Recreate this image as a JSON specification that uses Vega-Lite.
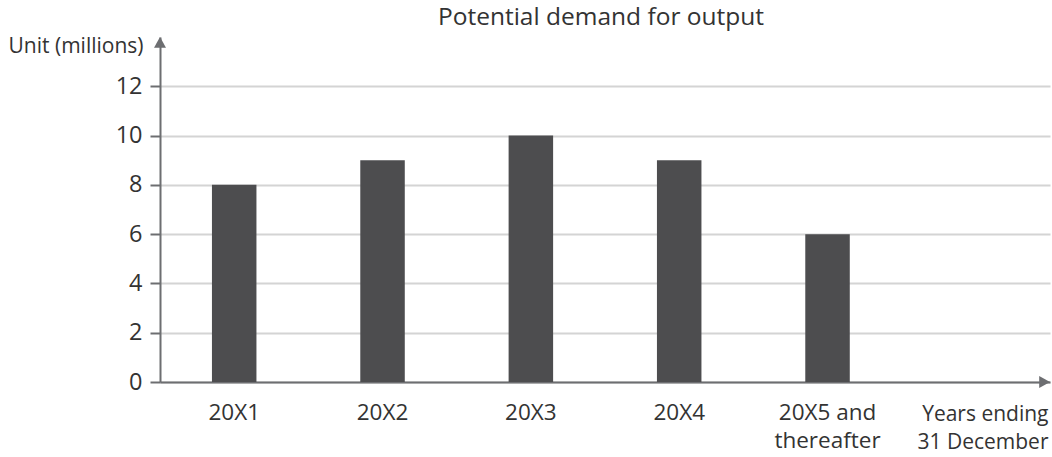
{
  "$schema": "https://vega.github.io/schema/vega-lite/v6.json",
  "width": 890,
  "height": 345,
  "autosize": {"type": "none"},
  "padding": {"left": 160, "top": 37, "right": 2, "bottom": 75},
  "background": "white",
  "config": {
    "view": {"stroke": null},
    "font": "Open Sans"
  },
  "title": {
    "text": "Potential demand for output",
    "fontSize": 24.5,
    "fontWeight": "normal",
    "color": "#333333",
    "anchor": "middle",
    "baseline": "alphabetic",
    "offset": -14,
    "dx": -4
  },
  "layer": [
    {
      "data": {
        "values": [
          {"year": "20X1", "units": 8},
          {"year": "20X2", "units": 9},
          {"year": "20X3", "units": 10},
          {"year": "20X4", "units": 9},
          {"year": "20X5 and thereafter", "units": 6}
        ]
      },
      "mark": {"type": "bar", "color": "#4d4d4f"},
      "encoding": {
        "x": {
          "field": "year",
          "type": "nominal",
          "sort": null,
          "scale": {"paddingInner": 0.7, "paddingOuter": 0.85, "align": 0.206},
          "axis": {
            "title": ["Years ending", "31 December"],
            "titleFontSize": 21,
            "titleFontWeight": "normal",
            "titleColor": "#333333",
            "titleAlign": "right",
            "titleAnchor": null,
            "titleBaseline": "alphabetic",
            "titleX": 888,
            "titleY": 38,
            "titleLineHeight": 28,
            "labelAngle": 0,
            "labelFontSize": 22.5,
            "labelColor": "#333333",
            "labelPadding": 19,
            "labelLineHeight": 28,
            "labelExpr": "datum.value == '20X5 and thereafter' ? ['20X5 and', 'thereafter'] : datum.value",
            "ticks": false,
            "domainColor": "#6d6e71",
            "domainWidth": 2,
            "grid": false
          }
        },
        "y": {
          "field": "units",
          "type": "quantitative",
          "scale": {"domain": [0, 14], "nice": false},
          "axis": {
            "title": "Unit (millions)",
            "titleFontSize": 21,
            "titleFontWeight": "normal",
            "titleColor": "#333333",
            "titleAngle": 0,
            "titleAlign": "right",
            "titleAnchor": null,
            "titleBaseline": "alphabetic",
            "titleX": -17,
            "titleY": 15,
            "values": [0, 2, 4, 6, 8, 10, 12],
            "labelFontSize": 23.5,
            "labelColor": "#333333",
            "labelPadding": 8,
            "tickSize": 10,
            "tickColor": "#6d6e71",
            "tickWidth": 2,
            "domainColor": "#6d6e71",
            "domainWidth": 2,
            "grid": true,
            "gridColor": "#d4d4d4",
            "gridWidth": 2
          }
        }
      }
    },
    {
      "data": {
        "values": [
          {"ax": 0, "ay": 14, "dir": "up"},
          {"ax": 6, "ay": 0, "dir": "right"}
        ]
      },
      "mark": {"type": "point", "filled": true, "opacity": 1, "size": 144, "color": "#6d6e71"},
      "encoding": {
        "x": {"field": "ax", "type": "quantitative", "scale": {"domain": [0, 6], "nice": false}, "axis": null},
        "y": {"field": "ay", "type": "quantitative"},
        "shape": {
          "field": "dir",
          "type": "nominal",
          "scale": {"domain": ["up", "right"], "range": ["M0,0L1,1.8L-1,1.8Z", "M0,0L-1.8,-1L-1.8,1Z"]},
          "legend": null
        }
      }
    }
  ],
  "resolve": {"scale": {"x": "independent"}}
}
